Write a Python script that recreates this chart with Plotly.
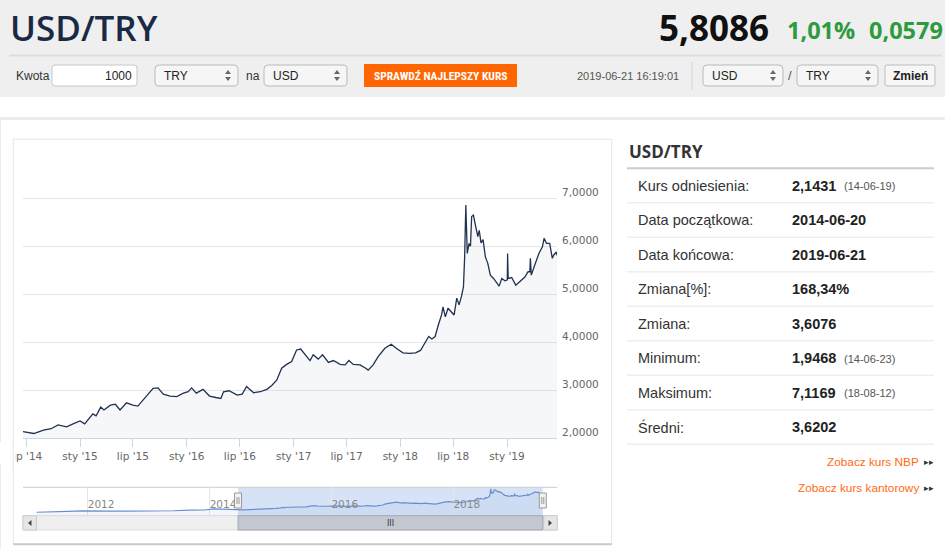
import plotly.graph_objects as go
import pandas as pd

# ---------------- data ----------------
dates = [
    "2014-06-20", "2014-07-27", "2014-08-29", "2014-09-24", "2014-10-18", "2014-11-16", "2014-12-12",
    "2015-01-01", "2015-01-17", "2015-02-03", "2015-02-14", "2015-02-25", "2015-03-13", "2015-03-24",
    "2015-04-15", "2015-05-02", "2015-05-18", "2015-06-09", "2015-07-01", "2015-07-18", "2015-08-05",
    "2015-08-22", "2015-09-08", "2015-09-25", "2015-10-13", "2015-11-05", "2015-11-28", "2015-12-21",
    "2016-01-06", "2016-01-18", "2016-02-03", "2016-02-26", "2016-03-19", "2016-04-10", "2016-04-27",
    "2016-05-06", "2016-05-25", "2016-06-22", "2016-07-09", "2016-07-24", "2016-08-17", "2016-09-09",
    "2016-10-01", "2016-10-18", "2016-11-04", "2016-11-21", "2016-12-08", "2016-12-25",
    "2017-01-11", "2017-01-25", "2017-02-09", "2017-02-26", "2017-03-09", "2017-03-26", "2017-04-10",
    "2017-04-30", "2017-05-17", "2017-06-09", "2017-06-26", "2017-07-09", "2017-07-24", "2017-08-16",
    "2017-09-02", "2017-09-13", "2017-09-30", "2017-10-17", "2017-11-09", "2017-12-01", "2017-12-18",
    "2018-01-10", "2018-02-01", "2018-02-22", "2018-03-11", "2018-03-26", "2018-04-08", "2018-04-19",
    "2018-04-30", "2018-05-11", "2018-05-22", "2018-05-27", "2018-06-04", "2018-06-13", "2018-06-24",
    "2018-07-04", "2018-07-13", "2018-07-21", "2018-07-29", "2018-08-05", "2018-08-09", "2018-08-13",
    "2018-08-18", "2018-08-24", "2018-08-29", "2018-09-02", "2018-09-08", "2018-09-15", "2018-09-23",
    "2018-09-28", "2018-10-04", "2018-10-11", "2018-10-19", "2018-10-27", "2018-11-05", "2018-11-16",
    "2018-11-27", "2018-12-05", "2018-12-14", "2018-12-25",
    "2019-01-02", "2019-01-03", "2019-01-05", "2019-01-17", "2019-01-31", "2019-02-14", "2019-03-03",
    "2019-03-14", "2019-03-20", "2019-03-22", "2019-03-25", "2019-04-06", "2019-04-20", "2019-05-02",
    "2019-05-08", "2019-05-16", "2019-05-27", "2019-06-05", "2019-06-10", "2019-06-19", "2019-06-21",
]
values = [
    2.14, 2.10, 2.17, 2.20, 2.28, 2.24, 2.31,
    2.36, 2.30, 2.42, 2.51, 2.47, 2.65, 2.59, 2.69, 2.71, 2.59, 2.74, 2.69, 2.67, 2.80,
    2.94, 3.04, 3.05, 2.92, 2.88, 2.87, 2.94,
    2.97, 3.05, 2.94, 3.02, 2.88, 2.85, 2.83, 2.97, 2.99, 2.90, 2.92, 3.08, 2.95, 2.97,
    3.02, 3.10, 3.21, 3.46, 3.54, 3.60,
    3.84, 3.86, 3.74, 3.62, 3.74, 3.65, 3.74, 3.58, 3.62, 3.54, 3.53, 3.62, 3.54, 3.53,
    3.47, 3.42, 3.53, 3.70, 3.875, 3.96, 3.875,
    3.78, 3.77, 3.78, 3.83, 4.00, 4.12, 4.07, 4.12, 4.36, 4.57, 4.74, 4.53, 4.71, 4.63,
    4.57, 4.92, 4.78, 4.95, 5.16, 5.78, 6.86, 5.85, 6.06, 6.00, 6.62, 6.65, 6.41, 6.20,
    6.33, 6.07, 6.14, 5.78, 5.65, 5.40, 5.33, 5.23, 5.17, 5.33, 5.28,
    5.30, 5.85, 5.33, 5.35, 5.19, 5.26, 5.36, 5.47, 5.47, 5.75, 5.40, 5.61, 5.85, 5.99,
    6.17, 6.06, 6.06, 5.75, 5.82, 5.88, 5.81,
]
assert len(dates) == len(values)

# earlier history shown only in the navigator
nav_pre_dates = ["2011-03-01", "2011-06-01", "2011-09-01", "2011-12-01", "2012-03-01", "2012-06-01",
                 "2012-09-01", "2012-12-01", "2013-03-01", "2013-06-01", "2013-09-01", "2013-12-01",
                 "2014-01-27", "2014-03-15", "2014-05-15"]
nav_pre_values = [1.56, 1.60, 1.76, 1.88, 1.78, 1.82, 1.80, 1.79, 1.81, 1.90, 2.02, 2.07, 2.30, 2.22, 2.10]

x_tick_dates = ["2014-07-01", "2015-01-01", "2015-07-01", "2016-01-01", "2016-07-01",
                "2017-01-01", "2017-07-01", "2018-01-01", "2018-07-01", "2019-01-01"]
x_tick_labels = ["lip '14", "sty '15", "lip '15", "sty '16", "lip '16",
                 "sty '17", "lip '17", "sty '18", "lip '18", "sty '19"]
y_tick_vals = [2, 3, 4, 5, 6, 7, 8]
y_tick_labels = ["2,0000", "3,0000", "4,0000", "5,0000", "6,0000", "7,0000", ""]

pair = "USD/TRY"
price = "5,8086"
change_pct = "1,01%"
change_abs = "0,0579"
timestamp = "2019-06-21 16:19:01"

stat_labels = ["Kurs odniesienia:", "Data początkowa:", "Data końcowa:", "Zmiana[%]:",
               "Zmiana:", "Minimum:", "Maksimum:", "Średni:"]
stat_values = ["2,1431", "2014-06-20", "2019-06-21", "168,34%", "3,6076", "1,9468", "7,1169", "3,6202"]
stat_dates = ["(14-06-19)", "", "", "", "", "(14-06-23)", "(18-08-12)", ""]

# ---------------- helpers ----------------
W, H = 945, 549
ARIAL = "Liberation Sans, Arial, sans-serif"
OPEN = "Open Sans, Liberation Sans, sans-serif"
HC = "DejaVu Sans, Verdana, sans-serif"


def fx(px):
    return px / W


def fy(py):
    return 1 - py / H


shapes = []
annotations = []


def rect(x0, y0, x1, y1, fill, line=None, lw=1, layer="below"):
    shapes.append(dict(type="rect", xref="paper", yref="paper", x0=fx(x0), x1=fx(x1),
                       y0=fy(y1), y1=fy(y0), fillcolor=fill, layer=layer,
                       line=dict(color=line or "rgba(0,0,0,0)", width=lw if line else 0)))


def hline(x0, x1, y, color, w=1, layer="below"):
    shapes.append(dict(type="line", xref="paper", yref="paper", x0=fx(x0), x1=fx(x1),
                       y0=fy(y), y1=fy(y), line=dict(color=color, width=w), layer=layer))


def vline(x, y0, y1, color, w=1, layer="below"):
    shapes.append(dict(type="line", xref="paper", yref="paper", x0=fx(x), x1=fx(x),
                       y0=fy(y0), y1=fy(y1), line=dict(color=color, width=w), layer=layer))


def P(x, y):
    return f"{fx(x):.5f},{fy(y):.5f}"


def rrect(x0, y0, x1, y1, r, fill, line, lw=1):
    path = (f"M{P(x0 + r, y0)} L{P(x1 - r, y0)} Q{P(x1, y0)} {P(x1, y0 + r)} "
            f"L{P(x1, y1 - r)} Q{P(x1, y1)} {P(x1 - r, y1)} L{P(x0 + r, y1)} "
            f"Q{P(x0, y1)} {P(x0, y1 - r)} L{P(x0, y0 + r)} Q{P(x0, y0)} {P(x0 + r, y0)} Z")
    shapes.append(dict(type="path", xref="paper", yref="paper", path=path,
                       fillcolor=fill, line=dict(color=line, width=lw), layer="below"))


def tri(pts, color):
    path = "M" + " L".join(P(x, y) for x, y in pts) + " Z"
    shapes.append(dict(type="path", xref="paper", yref="paper", path=path,
                       fillcolor=color, line=dict(width=0), layer="above"))


def text(x, y, s, size, color, family=ARIAL, weight="normal", xanchor="left"):
    annotations.append(dict(xref="paper", yref="paper", x=fx(x), y=fy(y), text=s,
                            showarrow=False, xanchor=xanchor, yanchor="middle",
                            borderpad=0,
                            font=dict(size=size, color=color, family=family, weight=weight)))


def select_box(x0, x1, label):
    rrect(x0, 65, x1, 86, 4, "#f6f6f6", "#b9b9b9")
    text(x0 + 8, 75.5, label, 12, "#222")
    cx = x1 - 10
    tri([(cx - 3, 74), (cx + 3, 74), (cx, 70)], "#666")
    tri([(cx - 3, 77), (cx + 3, 77), (cx, 81)], "#666")


# ---------------- page header ----------------
rect(0, 0, W, 97, "#efefef")
hline(9, 942, 55.5, "#dedede", 2)
text(9, 27, pair, 35, "#1b2a44", OPEN, 600)
text(770, 28, price, 35, "#111111", OPEN, "bold", "right")
text(786, 30, change_pct, 23.5, "#2e9a3f", OPEN, "bold")
text(868, 30, change_abs, 23.5, "#2e9a3f", OPEN, "bold")

text(15, 75.5, "Kwota", 12, "#333")
rrect(52, 65, 137, 86, 3, "#ffffff", "#c8c8c8")
text(133, 75.5, "1000", 12, "#222", xanchor="right")
select_box(155, 238, "TRY")
text(245, 75.5, "na", 12, "#333")
select_box(264, 347, "USD")
rect(364, 64, 517, 87, "#ff6600")
text(440.5, 75.5, "SPRAWDŹ NAJLEPSZY KURS", 11.5, "#ffffff",
     "Liberation Sans Narrow, Roboto Condensed, Liberation Sans, sans-serif", "bold", "center")
text(680, 75.5, timestamp, 11, "#555", xanchor="right")
vline(692, 62, 90, "#d2d2d2")
select_box(703, 783, "USD")
text(790, 75.5, "/", 13, "#555", xanchor="center")
select_box(797, 878, "TRY")
rrect(885, 65, 935, 86, 2, "#f6f6f6", "#bdbdbd")
text(910, 75.5, "Zmień", 12, "#222", weight="bold", xanchor="center")

# ---------------- content frame ----------------
hline(0, W, 118.5, "#ececec", 3)
vline(0.5, 120, H, "#ececec", 1)
rect(13.3, 139.3, 611.7, 544.3, "rgba(0,0,0,0)", "#e6e6e6", 1)
hline(13.3, 611.7, 544.3, "#c9c9c9", 2)

# ---------------- right statistics panel ----------------
text(628, 152, pair, 17, "#333", OPEN, "bold")
hline(627, 934, 168.3, "#cccccc", 2)
row_top = 168.3
row_h = 34.5
for i, (lab, val, dt) in enumerate(zip(stat_labels, stat_values, stat_dates)):
    cy = row_top + row_h * i + row_h / 2
    text(636.5, cy, lab, 14.5, "#333")
    text(790.5, cy, val, 14.5, "#222", weight="bold")
    if dt:
        text(843, cy + 0.5, dt, 11, "#555")
    hline(627, 934, row_top + row_h * (i + 1), "#eeeeee", 1.5)

text(920, 461.7, "Zobacz kurs NBP", 11.8, "#ff6a13", xanchor="right")
text(923, 462, "▸▸", 9, "#333")
text(920, 487.7, "Zobacz kurs kantorowy", 11.8, "#ff6a13", xanchor="right")
text(923, 488, "▸▸", 9, "#333")

# ---------------- navigator + scrollbar decorations ----------------
NAV_TOP, NAV_BOT, SB_BOT = 487.3, 515.7, 530.0
shapes.append(dict(type="rect", xref="x2", yref="paper", x0=dates[0], x1=dates[-1],
                   y0=fy(NAV_BOT), y1=fy(NAV_TOP), fillcolor="rgba(102,153,221,0.27)",
                   line=dict(width=0), layer="below"))
hline(23, 557.3, NAV_TOP, "#cccccc", 1)
rect(23, NAV_BOT, 557.3, SB_BOT, "#efefef", "#dddddd", 1)
rect(23, NAV_BOT, 36.5, SB_BOT, "#e6e6e6", "#cccccc", 1)
rect(543.8, NAV_BOT, 557.3, SB_BOT, "#e6e6e6", "#cccccc", 1)
shapes.append(dict(type="rect", xref="x2", yref="paper", x0=dates[0], x1=dates[-1],
                   y0=fy(SB_BOT), y1=fy(NAV_BOT), fillcolor="#c2c7d0",
                   line=dict(color="#a3a8b0", width=1), layer="above"))
tri([(31.5, 520), (31.5, 526), (28, 523)], "#444")
tri([(548.5, 520), (548.5, 526), (552, 523)], "#444")
mid = pd.Timestamp(dates[0]) + (pd.Timestamp(dates[-1]) - pd.Timestamp(dates[0])) / 2
annotations.append(dict(xref="x2", yref="paper", x=mid, y=fy(523), text="III", showarrow=False,
                        font=dict(size=8, color="#333", family=HC), xanchor="center",
                        yanchor="middle"))
for anchor in (dates[0], dates[-1]):
    shapes.append(dict(type="rect", xref="x2", yref="paper", xsizemode="pixel", xanchor=anchor,
                       x0=-3.5, x1=3.5, y0=fy(508), y1=fy(493), fillcolor="#f2f2f2",
                       line=dict(color="#999999", width=1), layer="above"))
    for off in (-1, 1):
        shapes.append(dict(type="line", xref="x2", yref="paper", xsizemode="pixel",
                           xanchor=anchor, x0=off, x1=off, y0=fy(504), y1=fy(497),
                           line=dict(color="#999999", width=1), layer="above"))

# cover the overflow of the first tick label (clipped by the chart container)
rect(0, 442, 15.5, 464, "#ffffff", layer="above")
vline(13.3, 440, 466, "#e6e6e6", 1, layer="above")

# ---------------- traces ----------------
fig = go.Figure()
fig.add_trace(go.Scatter(x=dates, y=values, mode="lines", xaxis="x", yaxis="y",
                         line=dict(color="#1f3250", width=1.3), fill="tozeroy",
                         fillcolor="rgba(40,70,120,0.045)", hoverinfo="skip", showlegend=False))
fig.add_trace(go.Scatter(x=nav_pre_dates + dates, y=nav_pre_values + values, mode="lines",
                         xaxis="x2", yaxis="y2", line=dict(color="#6a8fd0", width=1.2),
                         fill="tozeroy", fillcolor="rgba(102,133,194,0.07)",
                         hoverinfo="skip", showlegend=False))

fig.update_layout(
    width=W, height=H, margin=dict(l=0, r=0, t=0, b=0, pad=0, autoexpand=False),
    paper_bgcolor="#ffffff", plot_bgcolor="rgba(0,0,0,0)",
    showlegend=False, shapes=shapes, annotations=annotations,
    xaxis=dict(domain=[fx(23), fx(557)], anchor="y", type="date", automargin=False,
               range=[dates[0], dates[-1]], tickvals=x_tick_dates, ticktext=x_tick_labels,
               ticks="outside", ticklen=8, tickcolor="#ccd6eb", showline=True,
               linecolor="#ccd6eb", linewidth=1, showgrid=False, zeroline=False,
               tickfont=dict(family=HC, size=10.5, color="#666666"), fixedrange=True),
    yaxis=dict(domain=[fy(438.3), fy(150.3)], anchor="x", range=[2, 8], side="right",
               automargin=False,
               tickvals=y_tick_vals, ticktext=y_tick_labels, showgrid=True,
               gridcolor="#e6e6e6", gridwidth=1, zeroline=False, showline=False,
               ticks="", ticklabelstandoff=4, ticklabelshift=-6,
               tickfont=dict(family=HC, size=10.5, color="#666666"), fixedrange=True),
    xaxis2=dict(domain=[fx(23), fx(557.3)], anchor="y2", type="date", automargin=False,
                range=["2010-12-09", "2019-09-16"], tick0="2012-01-01", dtick="M24",
                tickformat="%Y", ticks="", ticklabelposition="inside right",
                showgrid=True, gridcolor="#e6e6e6", showline=False, zeroline=False,
                tickfont=dict(family=HC, size=10.5, color="#888888"), fixedrange=True),
    yaxis2=dict(domain=[fy(NAV_BOT), fy(NAV_TOP)], anchor="x2", range=[0.77, 7.23],
                automargin=False,
                showgrid=False, showticklabels=False, zeroline=False, showline=False,
                fixedrange=True),
)

fig.write_html("out.html", config={"displayModeBar": False},
               post_script="document.body.style.margin='0px';")
